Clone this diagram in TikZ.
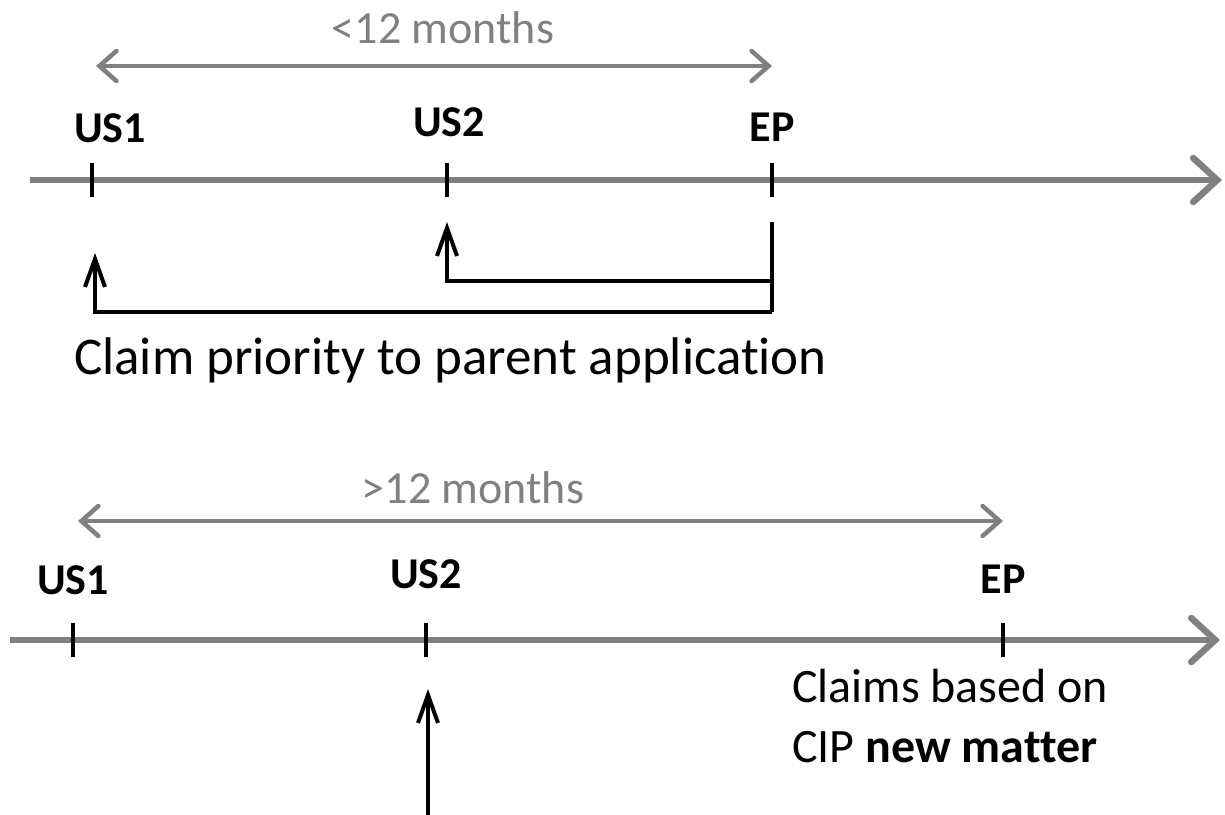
\documentclass[tikz,border=0pt]{standalone}
\usepackage{fontspec}
\setmainfont{Carlito}[Ligatures=NoCommon]
\usetikzlibrary{arrows.meta}
\definecolor{axisgray}{RGB}{128,128,128}
\begin{document}
\begin{tikzpicture}[x=1bp,y=-1bp,
  axis/.style={draw=axisgray, line width=6.5bp,
    -{Straight Barb[length=24bp,width=44bp,line cap=round]}},
  span/.style={draw=axisgray, line width=4.5bp,
    {Straight Barb[length=17bp,width=30bp,line cap=round]}-{Straight Barb[length=17bp,width=30bp,line cap=round]}},
  tickmark/.style={draw=black, line width=4bp},
  link/.style={draw=black, line width=4bp, line join=miter,
    -{Straight Barb[length=28bp,width=20bp]}},
  bar/.style={draw=black, line width=4bp},
  datelabel/.style={font=\fontsize{44bp}{48bp}\selectfont\bfseries, inner sep=0pt, anchor=base},
  spanlabel/.style={text=axisgray, font=\fontsize{46bp}{50bp}\selectfont, inner sep=0pt, anchor=base},
  bignote/.style={font=\fontsize{53bp}{60bp}\selectfont, inner sep=0pt, anchor=base west},
  note/.style={font=\fontsize{48bp}{60bp}\selectfont, inner sep=0pt, anchor=base west}
]
\useasboundingbox (0,0) rectangle (1225,815);

% ---------- upper timeline: EP filed within 12 months ----------
\coordinate (a1) at (92,180);
\coordinate (a2) at (447,180);
\coordinate (a3) at (772,180);
\coordinate (aS) at (30,180);
\coordinate (aE) at (1222,180);

\node[spanlabel] (alen) at (443,44) {<12 months};
\coordinate (asL) at (96,66);
\coordinate (asR) at (772,66);
\draw[span] (asL) -- (asR);

\node[datelabel] (aUS1) at (110,142) {US1};
\node[datelabel] (aUS2) at (449,136) {US2};
\node[datelabel] (aEP)  at (772,141) {EP};

\draw[axis] (aS) -- (aE);
\foreach \p in {a1,a2,a3}
  \draw[tickmark] ([yshift=-17bp]\p) -- ([yshift=17bp]\p);

% priority claims from EP back to both US filings
\coordinate (epTop) at (772,222);
\coordinate (epBot) at (772,312);
\coordinate (epMid) at (772,281);
\coordinate (us2Tip) at (447,222);
\coordinate (us1Tip) at (95,253);
\draw[bar] (epTop) -- (epBot);
\draw[link] (epMid) -| (us2Tip);
\draw[link] (epBot) -| (us1Tip);

\node[bignote] (aclaim) at (74,374) {Claim priority to parent application};

% ---------- lower timeline: EP filed after 12 months ----------
\coordinate (b1) at (73,640);
\coordinate (b2) at (426,640);
\coordinate (b3) at (1003,640);
\coordinate (bS) at (10,640);
\coordinate (bE) at (1220,640);

\node[spanlabel] (blen) at (473,503) {>12 months};
\coordinate (bsL) at (78,521);
\coordinate (bsR) at (1003,521);
\draw[span] (bsL) -- (bsR);

\node[datelabel] (bUS1) at (73,594) {US1};
\node[datelabel] (bUS2) at (426,588) {US2};
\node[datelabel] (bEP)  at (1003,593) {EP};

\draw[axis] (bS) -- (bE);
\foreach \p in {b1,b2,b3}
  \draw[tickmark] ([yshift=-17bp]\p) -- ([yshift=17bp]\p);

% CIP new matter only dates from US2
\coordinate (cipFoot) at (428,815);
\coordinate (cipTip) at (428,689);
\draw[link] (cipFoot) -- (cipTip);

\node[note] (bclaim1) at (792,702) {Claims based on};
\node[note] (bclaim2) at (792,762) {CIP \textbf{new matter}};
\end{tikzpicture}
\end{document}
